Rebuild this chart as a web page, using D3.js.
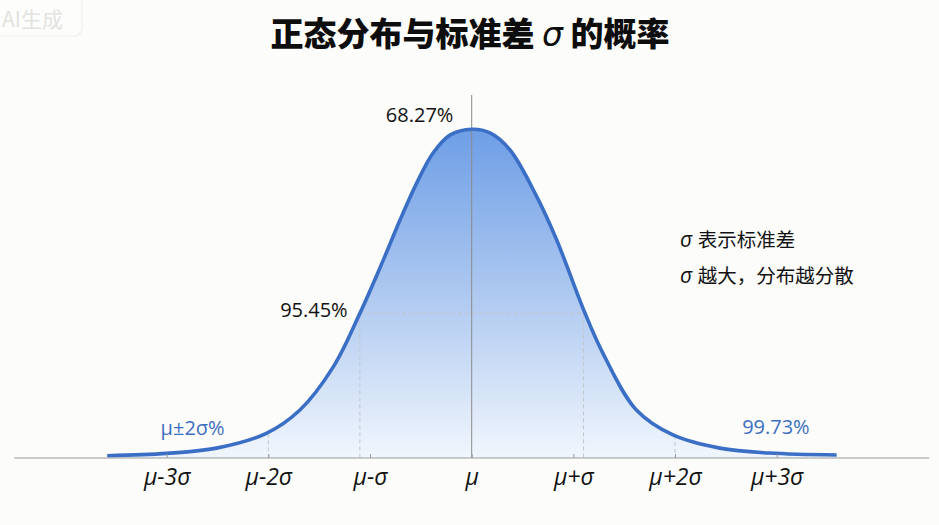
<!DOCTYPE html>
<html><head><meta charset="utf-8">
<script src="https://cdn.jsdelivr.net/npm/d3@7/dist/d3.min.js"></script>
<style>
html,body{margin:0;padding:0;background:#fcfcfa;}
svg{display:block;}
</style></head>
<body>
<script>
// ---- data (x in σ units relative to μ, y = relative density, peak = 1) ----
const curveX = [-3.585,-3.0,-2.51,-2.02,-1.69,-1.36,-1.10,-0.87,-0.705,-0.54,-0.38,-0.21,0,0.18,0.377,0.64,0.836,1.114,1.29,1.62,1.98,2.44,2.93,3.59];
const curveY = [0.007,0.014,0.030,0.075,0.146,0.278,0.440,0.602,0.724,0.837,0.928,0.983,1.0,0.989,0.937,0.795,0.663,0.441,0.319,0.146,0.070,0.030,0.015,0.009];
const tickValues = [-3,-2,-1,0,1,2,3];
const tickLabels = ["μ-3σ","μ-2σ","μ-σ","μ","μ+σ","μ+2σ","μ+3σ"];
const guideX = [-2.0,-1.1,1.1,2.0];
const guideTop = [0.075,0.440,0.440,0.070];
const bandLevel = 0.44;
const pctLabels = ["68.27%","95.45%","μ±2σ%","99.73%"];
const pctX = [-0.18,-1.22,-3.06,2.66];
const pctY = [1.022,0.43,0.07,0.073];
const notes = ["表示标准差","越大，分布越分散"];
const noteY = [0.642,0.532];
const title = ["正态分布与标准差 ","σ"," 的概率"];

const W=939,H=525;
const svg=d3.select("body").append("svg").attr("width",W).attr("height",H);
svg.append("rect").attr("width",W).attr("height",H).attr("fill","#fcfcfa");

const x=d3.scaleLinear().domain([-3,3]).range([166.7,776.7]);
const y=d3.scaleLinear().domain([0,1]).range([458,129.3]);
const font="'Open Sans','Noto Sans','Noto Sans CJK SC',sans-serif";

// watermark
svg.append("rect").attr("x",-12).attr("y",-10).attr("width",94).attr("height",46).attr("rx",8)
  .attr("fill","#fdfdfc").attr("stroke","#eeeeec").attr("stroke-width",1.2);
svg.append("text").attr("x",2).attr("y",27).attr("font-family","'Noto Sans CJK SC',sans-serif")
  .attr("font-size",21).attr("fill","#e2e2e0").text("AI生成");

// title
const t=svg.append("text").attr("x",470).attr("y",46).attr("text-anchor","middle")
  .attr("font-family","'Noto Sans CJK SC',sans-serif").attr("font-weight","900").attr("font-size",33).attr("fill","#0d0d0d");
t.append("tspan").text(title[0]);
t.append("tspan").attr("font-family","'DejaVu Sans',sans-serif").attr("font-style","italic").attr("font-weight","normal").text(title[1]);
t.append("tspan").text(title[2]);

// gradient
const defs=svg.append("defs");
const g=defs.append("linearGradient").attr("id","fillGrad").attr("gradientUnits","userSpaceOnUse")
  .attr("x1",0).attr("x2",0).attr("y1",y(1)).attr("y2",y(0));
g.append("stop").attr("offset","0%").attr("stop-color","#6e9ee6");
g.append("stop").attr("offset","55%").attr("stop-color","#b4cdf1");
g.append("stop").attr("offset","100%").attr("stop-color","#f1f6fd");

const pts=curveX.map((v,i)=>[v,curveY[i]]);
const area=d3.area().x(d=>x(d[0])).y0(y(0)).y1(d=>y(d[1])).curve(d3.curveCatmullRom.alpha(0.5));
const line=d3.line().x(d=>x(d[0])).y(d=>y(d[1])).curve(d3.curveCatmullRom.alpha(0.5));

svg.append("path").datum(pts).attr("d",area).attr("fill","url(#fillGrad)");

// guides
const guides=svg.append("g").attr("stroke","#c2c6cc").attr("stroke-width",1).attr("stroke-dasharray","4,3");
guideX.forEach((gx,i)=>{
  guides.append("line").attr("x1",x(gx)).attr("x2",x(gx)).attr("y1",y(guideTop[i])).attr("y2",y(0));
});
guides.append("line").attr("x1",x(guideX[1])).attr("x2",x(guideX[2])).attr("y1",y(bandLevel)).attr("y2",y(bandLevel));

// center line
svg.append("line").attr("x1",x(0)).attr("x2",x(0)).attr("y1",95).attr("y2",y(0))
  .attr("stroke","#8a8a8a").attr("stroke-width",1);

// curve
svg.append("path").datum(pts).attr("d",line).attr("fill","none")
  .attr("stroke","#3b6fc6").attr("stroke-width",3.6).attr("stroke-linecap","butt");

// axis
svg.append("line").attr("x1",x(-4.5)).attr("x2",x(4.5)).attr("y1",y(0)).attr("y2",y(0))
  .attr("stroke","#9a9a9a").attr("stroke-width",1.2);
const ax=svg.append("g").attr("transform",`translate(0,${y(0)})`)
  .call(d3.axisBottom(x).tickValues(tickValues).tickFormat((d,i)=>tickLabels[i]).tickSize(-4).tickPadding(11));
ax.select(".domain").remove();
ax.selectAll(".tick line").attr("stroke","#9a9a9a");
ax.selectAll(".tick text").attr("font-family",font).attr("font-style","italic").attr("font-size",23).attr("fill","#111");

// percentage labels
const pctColor=["#111","#111","#3d6fc0","#3d6fc0"];
const pctAnchor=["end","end","start","start"];
pctLabels.forEach((s,i)=>{
  svg.append("text").attr("x",x(pctX[i])).attr("y",y(pctY[i])).attr("text-anchor",pctAnchor[i])
    .attr("font-family",font).attr("font-size",20).attr("fill",pctColor[i]).text(s);
});

// notes
notes.forEach((s,i)=>{
  const tx=svg.append("text").attr("x",x(2.05)).attr("y",y(noteY[i])).attr("font-size",19.5).attr("fill","#111")
    .attr("font-family","'Noto Sans CJK SC',sans-serif");
  tx.append("tspan").attr("font-family",font).attr("font-style","italic").attr("font-size",21).text("σ ");
  tx.append("tspan").text(s);
});
</script>
</body></html>
